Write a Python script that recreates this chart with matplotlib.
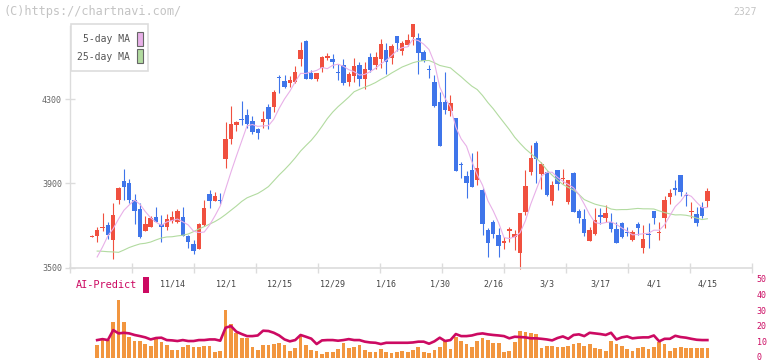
import numpy as np
import pandas as pd
import matplotlib
matplotlib.use("Agg")
import matplotlib.pyplot as plt
import matplotlib.transforms as mtransforms
from matplotlib.patches import Rectangle

# ---------------- data ----------------
opens = [3645, 3651, 3688, 3702, 3631, 3822, 3911, 3903, 3820, 3776,
         3675, 3694, 3740, 3707, 3694, 3721, 3717, 3738, 3650, 3612,
         3588, 3702, 3849, 3817, 3822, 4017, 4109, 4177, 4205, 4224,
         4196, 4158, 4192, 4263, 4263, 4404, 4385, 4378, 4383, 4490,
         4575, 4422, 4397, 4449, 4497, 4490, 4428, 4461, 4382, 4409,
         4461, 4395, 4499, 4461, 4488, 4533, 4497, 4599, 4529, 4556,
         4596, 4590, 4525, 4442, 4382, 4287, 4287, 4244, 4210, 3991,
         3934, 3963, 3915, 3868, 3678, 3717, 3654, 3619, 3673, 3643,
         3570, 3765, 3955, 4090, 3944, 3955, 3817, 3963, 3919, 3810,
         3947, 3770, 3730, 3627, 3658, 3749, 3734, 3715, 3683, 3710,
         3667, 3631, 3707, 3594, 3659, 3768, 3663, 3736, 3836, 3874,
         3939, 3843, 3763, 3753, 3786, 3817]
highs = [3652, 3694, 3760, 3717, 3808, 3884, 3968, 3920, 3849, 3805,
         3745, 3745, 3789, 3749, 3753, 3768, 3778, 3789, 3654, 3631,
         3713, 3820, 3868, 3858, 3852, 4190, 4268, 4194, 4291, 4253,
         4219, 4160, 4243, 4275, 4343, 4413, 4413, 4407, 4457, 4571,
         4580, 4438, 4425, 4502, 4518, 4514, 4465, 4490, 4430, 4495,
         4478, 4476, 4520, 4523, 4585, 4566, 4561, 4601, 4575, 4609,
         4658, 4613, 4533, 4461, 4414, 4335, 4430, 4319, 4212, 4000,
         3958, 4044, 4053, 3877, 3686, 3726, 3686, 3643, 3691, 3678,
         3760, 3963, 4082, 4101, 3999, 3958, 3912, 3965, 3966, 3917,
         3955, 3776, 3776, 3694, 3784, 3781, 3795, 3760, 3717, 3717,
         3694, 3678, 3717, 3702, 3710, 3770, 3715, 3839, 3873, 3915,
         3941, 3860, 3810, 3789, 3812, 3876]
lows = [3643, 3620, 3672, 3635, 3539, 3801, 3820, 3808, 3705, 3639,
        3672, 3691, 3715, 3622, 3678, 3713, 3713, 3649, 3594, 3563,
        3586, 3697, 3781, 3815, 3801, 3971, 4086, 4150, 4177, 4162,
        4134, 4109, 4162, 4156, 4238, 4330, 4351, 4355, 4376, 4459,
        4393, 4395, 4387, 4426, 4483, 4445, 4390, 4367, 4362, 4382,
        4362, 4348, 4430, 4442, 4446, 4419, 4466, 4530, 4507, 4554,
        4556, 4419, 4476, 4402, 4262, 4076, 4229, 4219, 3956, 3924,
        3831, 3881, 3892, 3654, 3548, 3639, 3550, 3586, 3622, 3583,
        3495, 3749, 3939, 3903, 3871, 3840, 3797, 3868, 3895, 3801,
        3763, 3710, 3650, 3625, 3656, 3707, 3717, 3669, 3616, 3641,
        3651, 3626, 3654, 3567, 3591, 3705, 3631, 3686, 3801, 3844,
        3841, 3793, 3736, 3697, 3734, 3789]
closes = [3650, 3678, 3692, 3654, 3749, 3879, 3884, 3820, 3770, 3646,
          3707, 3736, 3717, 3694, 3729, 3740, 3770, 3651, 3622, 3580,
          3707, 3781, 3817, 3839, 3818, 4110, 4181, 4192, 4200, 4180,
          4141, 4137, 4205, 4204, 4333, 4400, 4358, 4390, 4428, 4533,
          4397, 4397, 4423, 4499, 4504, 4476, 4424, 4375, 4417, 4457,
          4394, 4442, 4438, 4499, 4561, 4477, 4552, 4564, 4566, 4580,
          4656, 4520, 4480, 4438, 4267, 4078, 4250, 4281, 3958, 3987,
          3903, 3884, 3972, 3707, 3618, 3661, 3602, 3623, 3683, 3658,
          3757, 3887, 4020, 4015, 3991, 3844, 3892, 3896, 3924, 3915,
          3765, 3734, 3665, 3678, 3726, 3738, 3760, 3681, 3618, 3643,
          3664, 3670, 3689, 3635, 3656, 3736, 3668, 3820, 3852, 3871,
          3860, 3839, 3767, 3710, 3745, 3863]

# moving-average values before enough history is available
ma5_head = [np.nan, 3550, 3597, 3650]
ma25_head = [np.nan, 3578, 3577, 3575, 3574, 3572, 3583, 3595, 3604, 3612,
             3615, 3621, 3631, 3640, 3645, 3646, 3650, 3653, 3659, 3670,
             3683, 3694, 3706, 3718]

volume = [np.nan, 7.9, 12.1, 11.3, 22.5, 36.3, 22.5, 13.3, 10.6, 10.6,
          8.5, 7.1, 12.1, 9.6, 7.9, 5.0, 5.0, 6.7, 7.9, 6.5,
          6.5, 7.1, 7.1, 3.8, 4.2, 30.0, 21.0, 15.4, 12.1, 12.1,
          6.5, 5.0, 7.9, 7.9, 8.5, 9.2, 7.9, 4.2, 5.8, 13.8,
          7.9, 5.0, 4.2, 2.3, 3.8, 3.8, 5.4, 9.2, 5.8, 6.5,
          7.9, 5.0, 3.8, 3.3, 5.4, 3.3, 2.7, 3.3, 4.2, 3.8,
          5.0, 6.5, 3.8, 2.9, 5.0, 6.5, 10.6, 5.4, 13.3, 10.6,
          8.5, 6.5, 10.6, 12.1, 11.3, 9.2, 9.2, 3.8, 4.4, 10.0,
          16.9, 16.3, 15.4, 14.8, 6.3, 7.5, 7.1, 6.9, 6.9, 7.5,
          8.5, 9.2, 7.5, 8.5, 5.8, 5.4, 4.4, 10.6, 8.5, 7.1,
          5.4, 4.4, 6.3, 6.9, 5.4, 6.9, 9.6, 8.5, 4.4, 6.3,
          6.9, 6.3, 5.8, 6.3, 5.8, 6.3]
ai_predict = [np.nan, 11.1, 11.7, 11.1, 17.4, 15.3, 15.7, 15.3, 14.3, 13.6,
              12.8, 11.5, 12.4, 12.6, 11.1, 10.9, 10.5, 11.1, 10.5, 10.5,
              11.1, 11.1, 11.5, 11.5, 10.7, 18.9, 19.9, 16.4, 14.9, 13.6,
              13.6, 14.0, 17.0, 16.8, 15.7, 14.0, 11.5, 10.3, 11.1, 14.3,
              13.2, 12.0, 8.6, 10.9, 11.1, 11.1, 10.7, 11.1, 11.7, 11.1,
              11.1, 10.1, 9.6, 9.4, 8.6, 9.4, 9.4, 9.4, 9.4, 9.4,
              9.6, 10.1, 10.1, 8.8, 10.3, 12.6, 10.5, 11.1, 14.9, 13.6,
              13.6, 14.0, 14.9, 15.3, 14.7, 14.3, 14.0, 13.6, 12.2, 13.2,
              13.0, 12.8, 12.2, 12.2, 11.9, 11.5, 10.9, 12.4, 13.4, 11.9,
              14.3, 14.7, 13.6, 15.7, 15.3, 14.9, 14.3, 15.7, 11.5, 12.8,
              13.4, 12.2, 12.6, 12.8, 12.8, 14.0, 10.3, 11.9, 11.9, 13.8,
              13.0, 12.6, 11.9, 11.3, 11.1, 11.1]

date_labels = ["11/14", "12/1", "12/15", "12/29", "1/16", "1/30",
               "2/16", "3/3", "3/17", "4/1", "4/15"]
date_index = [15, 25, 35, 45, 55, 65, 75, 85, 95, 105, 115]
price_ticks = [3500, 3900, 4300]
vol_ticks = [0, 10, 20, 30, 40, 50]

# ---------------- style ----------------
RED = "#f0503f"
BLUE = "#3f75ea"
PINK = "#e8b0e8"
GREEN = "#b2dba0"
ORANGE = "#f2963f"
CRIMSON = "#cc0a62"
AXIS = "#dcdcdc"
MONO = ["DejaVu Sans Mono"]

W, H = 772, 361
STEP = 5.353          # pixels per trading day
X0 = 91.8             # pixel x of first candle
PLOT_L, PLOT_R = 70, 752
PX_PER_YEN = 84.25 / 400.0

def fx(px):
    return px / W

def fy(py):
    return 1 - py / H

n = len(closes)
idx = np.arange(n)
cl = pd.Series(closes, dtype=float)
ma5 = cl.rolling(5).mean().to_numpy()
ma5[:len(ma5_head)] = ma5_head
ma25 = cl.rolling(25).mean().to_numpy()
ma25[:len(ma25_head)] = ma25_head

fig = plt.figure(figsize=(W / 100, H / 100), dpi=100)
fig.patch.set_facecolor("white")

xl = -(X0 - PLOT_L) / STEP
xr = xl + (PLOT_R - PLOT_L) / STEP
grid_ticks = [xl + k * 62 / STEP for k in range(12)]

# ---------------- price panel ----------------
top_px = 20
ax = fig.add_axes([fx(PLOT_L), fy(267.5), fx(PLOT_R) - fx(PLOT_L), (267.5 - top_px) / H])
ax.set_xlim(xl, xr)
ax.set_ylim(3500, 3500 + (267.5 - top_px) / PX_PER_YEN)
ax.set_facecolor("white")

body_w = 0.82
min_body = 1.1 / PX_PER_YEN
for i in range(n):
    o, h, l, c = opens[i], highs[i], lows[i], closes[i]
    col = RED if c >= o else BLUE
    ax.vlines(i, l, h, color=col, lw=0.8, zorder=2, clip_on=False)
    lo, hi = min(o, c), max(o, c)
    if hi - lo < min_body:
        mid = (hi + lo) / 2
        lo, hi = mid - min_body / 2, mid + min_body / 2
    ax.add_patch(Rectangle((i - body_w / 2, lo), body_w, hi - lo,
                           facecolor=col, edgecolor="none", zorder=2, clip_on=False))

ax.plot(idx, ma25, color=GREEN, lw=0.8, zorder=3)
ax.plot(idx, ma5, color=PINK, lw=0.8, zorder=3)

for s in ["top", "right"]:
    ax.spines[s].set_visible(False)
ax.spines["left"].set_color(AXIS)
ax.spines["bottom"].set_color(AXIS)
ax.spines["left"].set_linewidth(1.0)
ax.spines["bottom"].set_linewidth(1.2)
ax.spines["left"].set_bounds(3500, 3500 + (267.5 - 26) / PX_PER_YEN)

ax.set_yticks(price_ticks)
ax.set_yticklabels([str(v) for v in price_ticks], fontfamily=MONO)
ax.tick_params(axis="y", direction="inout", length=6.5, color=AXIS, width=1,
               labelsize=6, labelcolor="#666666", pad=2.5)

ax.set_xticks(grid_ticks)
ax.set_xticklabels([""] * len(grid_ticks))
ax.set_xticks(date_index, minor=True)
ax.set_xticklabels(date_labels, minor=True, fontfamily=MONO)
ax.tick_params(axis="x", which="major", direction="inout", length=6.5, color=AXIS, width=1)
ax.tick_params(axis="x", which="minor", length=0, pad=8.5, labelsize=6, labelcolor="#444444")

# ---------------- volume / AI-Predict panel ----------------
axv = fig.add_axes([fx(PLOT_L), fy(357.7), fx(PLOT_R) - fx(PLOT_L), (357.7 - 278.3) / H])
axv.set_xlim(xl, xr)
axv.set_ylim(0, 50)
axv.patch.set_alpha(0)
axv.bar(idx, volume, width=0.7, color=ORANGE, zorder=2)
axv.plot(idx, ai_predict, color=CRIMSON, lw=1.9, zorder=3, solid_joinstyle="round")
for s in axv.spines.values():
    s.set_visible(False)
axv.set_xticks([])
axv.yaxis.tick_right()
axv.set_yticks(vol_ticks)
axv.set_yticklabels([str(v) for v in vol_ticks], fontfamily=MONO)
axv.tick_params(axis="y", length=0, pad=3.5, labelsize=6, labelcolor=CRIMSON)
# keep the lowest label inside the canvas
lab0 = axv.get_yticklabels()[0]
lab0.set_transform(lab0.get_transform() +
                   mtransforms.ScaledTranslation(0, 1.5 / 100, fig.dpi_scale_trans))

# ---------------- decorations ----------------
fig.text(fx(3), fy(12), "(C)https://chartnavi.com/", fontsize=8.6, color="#c4c4c4",
         family=MONO, va="center", ha="left")
fig.text(fx(757), fy(12), "2327", fontsize=7, color="#c4c4c4",
         family=MONO, va="center", ha="right")

# legend box
fig.patches.append(Rectangle((fx(70.5), fy(71)), (148.3 - 70.5) / W, (71 - 24.3) / H,
                             transform=fig.transFigure, facecolor="white",
                             edgecolor="#dddddd", lw=1.2, zorder=5))
fig.text(fx(130), fy(39), "5-day MA", fontsize=7, color="#555555", family=MONO,
         ha="right", va="center", zorder=6)
fig.text(fx(130), fy(56.5), "25-day MA", fontsize=7, color="#555555", family=MONO,
         ha="right", va="center", zorder=6)
fig.patches.append(Rectangle((fx(136.5), fy(46)), 6 / W, 14.5 / H, transform=fig.transFigure,
                             facecolor=PINK, edgecolor="#666666", lw=0.8, zorder=6))
fig.patches.append(Rectangle((fx(136.5), fy(63)), 6 / W, 14.5 / H, transform=fig.transFigure,
                             facecolor=GREEN, edgecolor="#666666", lw=0.8, zorder=6))

# AI-Predict label
fig.text(fx(75.5), fy(285.5), "AI-Predict", fontsize=7.4, color=CRIMSON, family=MONO,
         ha="left", va="center")
fig.patches.append(Rectangle((fx(142.5), fy(292.7)), 6.2 / W, 15.4 / H,
                             transform=fig.transFigure, facecolor=CRIMSON,
                             edgecolor="none", zorder=6))

fig.savefig("out.png", dpi=100, facecolor="white")
